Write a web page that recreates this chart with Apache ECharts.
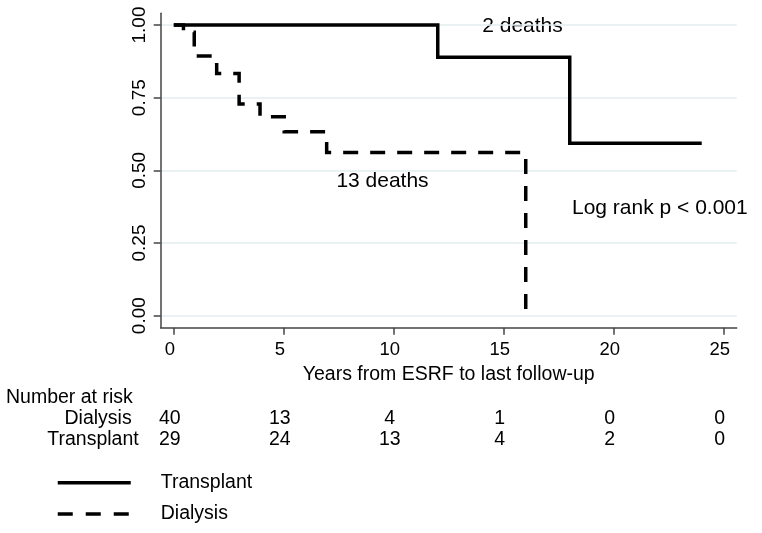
<!DOCTYPE html>
<html>
<head>
<meta charset="utf-8">
<script src="https://cdn.jsdelivr.net/npm/echarts@6/dist/echarts.min.js"></script>
<style>
html,body{margin:0;padding:0;background:#fff;}
#chart{width:762px;height:533px;}
</style>
</head>
<body>
<div id="chart"></div>
<script>
// ---- data ----
const yearTicks = [0, 5, 10, 15, 20, 25];
const survTicks = [0, 0.25, 0.5, 0.75, 1];
const transplantTime = [0, 12, 18, 24];
const transplantSurv = [1, 0.889, 0.593, 0.593];
const dialysisTime = [0, 0.44, 0.93, 1.95, 2.97, 3.92, 5.02, 6.95, 16.0];
const dialysisSurv = [1, 0.975, 0.893, 0.833, 0.728, 0.684, 0.633, 0.561, 0];
const riskRows = ['Dialysis', 'Transplant'];
const riskDialysis = [40, 13, 4, 1, 0, 0];
const riskTransplant = [29, 24, 13, 4, 2, 0];
const xTitle = 'Years from ESRF to last follow-up';
const annotations = ['2 deaths', '13 deaths', 'Log rank p < 0.001'];

const FONT = 'Liberation Sans, Arial, Helvetica, sans-serif';
const pair = (xs, ys) => xs.map((x, i) => [x, ys[i]]);

const riskData = [];
yearTicks.forEach((t, i) => {
  riskData.push([t, riskRows[0], riskDialysis[i]]);
  riskData.push([t, riskRows[1], riskTransplant[i]]);
});

const X_MIN = -0.595, X_MAX = 25.59;

const chart = echarts.init(document.getElementById('chart'), null, {renderer: 'canvas'});
chart.setOption({
  animation: false,
  backgroundColor: '#fff',
  grid: [
    {left: 160.7, right: 25.3, top: 13.3, bottom: 205.3, containLabel: false},
    {left: 160.7, right: 25.3, top: 407.5, height: 43.4, containLabel: false}
  ],
  xAxis: [
    {
      type: 'value', gridIndex: 0, min: X_MIN, max: X_MAX,
      name: xTitle, nameLocation: 'middle', nameGap: 27,
      nameTextStyle: {fontFamily: FONT, fontSize: 19.5, color: '#000'},
      axisLine: {show: true, onZero: false, lineStyle: {color: '#444', width: 1.5}},
      axisTick: {show: true, length: 7, customValues: yearTicks, lineStyle: {color: '#444', width: 1.5}},
      axisLabel: {customValues: yearTicks, fontFamily: FONT, fontSize: 18.5, color: '#000', margin: 13, padding: [0, 8, 0, 0]},
      splitLine: {show: false}
    },
    {
      type: 'value', gridIndex: 1, min: X_MIN, max: X_MAX,
      axisLine: {show: false}, axisTick: {show: false}, axisLabel: {show: false}, splitLine: {show: false}
    }
  ],
  yAxis: [
    {
      type: 'value', gridIndex: 0, min: -0.0413, max: 1.0402,
      axisLine: {show: true, onZero: false, lineStyle: {color: '#444', width: 1.5}},
      axisTick: {show: true, length: 7, customValues: survTicks, lineStyle: {color: '#444', width: 1.5}},
      axisLabel: {customValues: survTicks, rotate: 90, fontFamily: FONT, fontSize: 19, color: '#000', margin: 11,
        formatter: v => Number(v).toFixed(2)},
      splitLine: {show: true, lineStyle: {color: '#e3ecee', width: 1.5}}
    },
    {
      type: 'category', gridIndex: 1, data: riskRows, inverse: true,
      axisLine: {show: false}, axisTick: {show: false}, splitLine: {show: false},
      axisLabel: {
        interval: 0, margin: 22, fontFamily: FONT, fontSize: 19.5, color: '#000',
        formatter: v => v === 'Dialysis' ? '{d|' + v + '}' : v,
        rich: {d: {fontFamily: FONT, fontSize: 19.5, color: '#000', padding: [0, 7, 0, 0]}}
      }
    }
  ],
  legend: {
    orient: 'vertical', left: 51, top: 467.7,
    itemWidth: 73, itemHeight: 20, itemGap: 11.3,
    itemStyle: {color: 'rgba(0,0,0,0)', borderWidth: 0},
    textStyle: {fontFamily: FONT, fontSize: 19.5, color: '#000', padding: [0, 0, 0, 25]},
    data: [
      {name: 'Transplant', lineStyle: {width: 3.5}},
      {name: 'Dialysis', lineStyle: {width: 3.5, type: [15, 13]}}
    ]
  },
  graphic: [
    {type: 'text', x: 522.5, y: 26.3, style: {text: annotations[0], fontFamily: FONT, fontSize: 21, fill: '#000', align: 'center', verticalAlign: 'middle'}},
    {type: 'text', x: 382.5, y: 180.8, style: {text: annotations[1], fontFamily: FONT, fontSize: 21, fill: '#000', align: 'center', verticalAlign: 'middle'}},
    {type: 'text', x: 572, y: 208, style: {text: annotations[2], fontFamily: FONT, fontSize: 21, fill: '#000', align: 'left', verticalAlign: 'middle'}},
    {type: 'text', x: 6, y: 397.8, style: {text: 'Number at risk', fontFamily: FONT, fontSize: 19.5, fill: '#000', align: 'left', verticalAlign: 'middle'}}
  ],
  series: [
    {
      name: 'Dialysis', type: 'line', xAxisIndex: 0, yAxisIndex: 0, step: 'end',
      symbol: 'none', data: pair(dialysisTime, dialysisSurv),
      lineStyle: {color: '#000', width: 3.5, type: [15, 12], join: 'miter', cap: 'butt'},
      itemStyle: {color: '#000'}, z: 2
    },
    {
      name: 'Transplant', type: 'line', xAxisIndex: 0, yAxisIndex: 0, step: 'end',
      symbol: 'none', data: pair(transplantTime, transplantSurv),
      lineStyle: {color: '#000', width: 3.5, type: 'solid', join: 'miter', cap: 'butt'},
      itemStyle: {color: '#000'}, z: 3
    },
    {
      name: 'risk', type: 'scatter', xAxisIndex: 1, yAxisIndex: 1,
      symbolSize: 1, data: riskData, silent: true,
      itemStyle: {color: '#fff', opacity: 1},
      label: {show: true, position: 'inside', offset: [-4, 0], fontFamily: FONT, fontSize: 19.5, color: '#000', opacity: 1,
        formatter: p => String(p.value[2])}
    }
  ]
});
</script>
</body>
</html>
